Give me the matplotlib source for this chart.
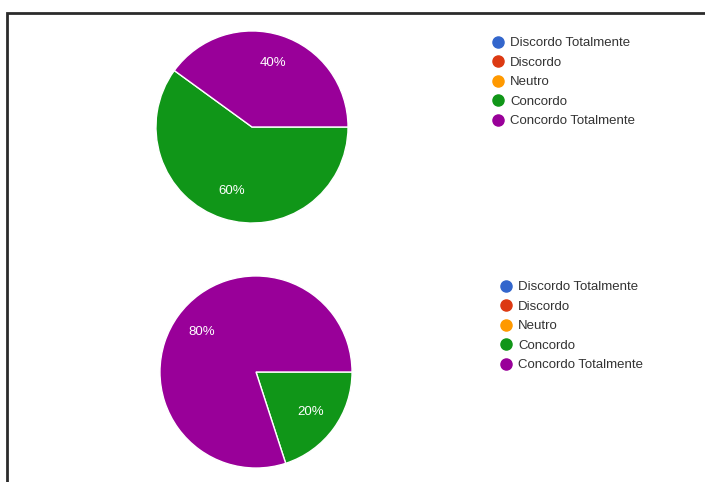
import matplotlib
matplotlib.use('Agg')
import matplotlib.pyplot as plt
from matplotlib.lines import Line2D
from matplotlib.patches import Rectangle

W, H = 705, 482

categories = ['Discordo Totalmente', 'Discordo', 'Neutro', 'Concordo', 'Concordo Totalmente']
colors = ['#3366cc', '#dc3912', '#ff9900', '#109618', '#990099']
values_top = [0, 0, 0, 60, 40]
values_bottom = [0, 0, 0, 20, 80]

plt.rcParams['font.family'] = ['Arial', 'Liberation Sans', 'DejaVu Sans']

fig = plt.figure(figsize=(W / 100, H / 100), dpi=100)


def px_axes(cx, cy, r):
    # axes box in pixels (origin top-left)
    return fig.add_axes([(cx - r) / W, (H - cy - r) / H, 2 * r / W, 2 * r / H])


def draw_pie(ax, values):
    vals = [v for v in values if v > 0]
    cols = [c for v, c in zip(values, colors) if v > 0]
    wedges, texts = ax.pie(vals, colors=cols, startangle=0, counterclock=False,
                           labels=['%d%%' % v for v in vals], labeldistance=0.7,
                           wedgeprops=dict(edgecolor='white', linewidth=1),
                           textprops=dict(color='white', fontsize=9.5))
    for t in texts:
        t.set_ha('center')
        t.set_va('center')
    ax.set_xlim(-1.01, 1.01)
    ax.set_ylim(-1.01, 1.01)
    ax.set_aspect('equal')
    ax.axis('off')


def draw_legend(x, y):
    handles = [Line2D([], [], marker='o', linestyle='None', markersize=8,
                      markerfacecolor=c, markeredgecolor=c) for c in colors]
    leg = fig.legend(handles, categories, loc='upper left',
                     bbox_to_anchor=(x / W, 1 - y / H), frameon=False,
                     fontsize=9.5, labelspacing=0.55, handletextpad=0.45,
                     handlelength=1.0, borderpad=0, borderaxespad=0)
    for t in leg.get_texts():
        t.set_color('#333333')


ax1 = px_axes(252, 127, 97)
draw_pie(ax1, values_top)
draw_legend(491, 37)

ax2 = px_axes(256, 372, 97)
draw_pie(ax2, values_bottom)
draw_legend(499, 281)

# outer frame (left and top edges visible)
fig.add_artist(Rectangle((7 / W, -0.1), 1.2, 1 - 13 / H + 0.1, transform=fig.transFigure,
                         fill=False, edgecolor='#2b2b2b', linewidth=2))

fig.savefig('out.png', dpi=100)
